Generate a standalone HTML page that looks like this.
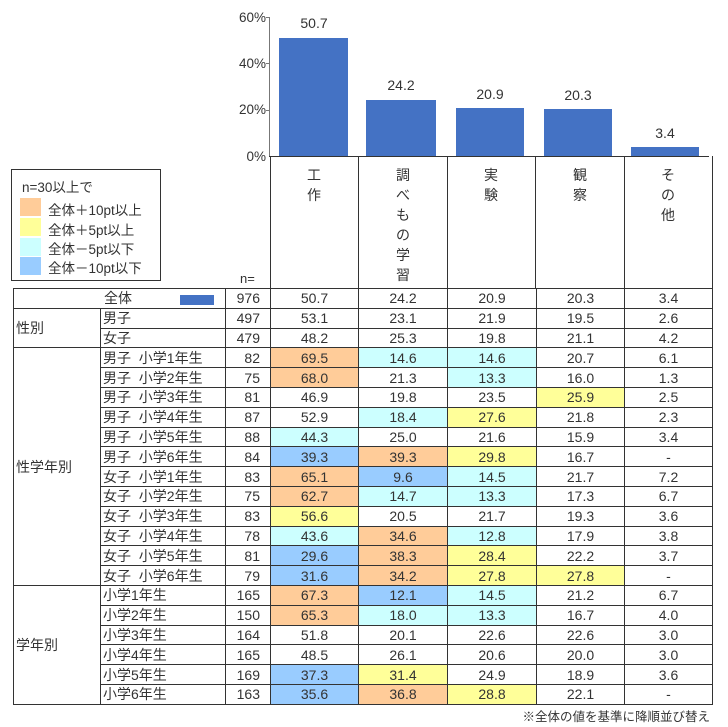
<!DOCTYPE html>
<html><head><meta charset="utf-8"><style>
body{margin:0;width:728px;height:727px;background:#fff;position:relative;overflow:hidden;font-family:"Liberation Sans","Noto Sans CJK JP",sans-serif;color:#333;}
.a{position:absolute}
.bar{position:absolute;background:#4472C4}
.lbl{position:absolute;font-size:14px;text-align:center;width:80px}
.yt{position:absolute;font-size:13.5px;right:462px;text-align:right}
.vt{position:absolute;top:165px;width:20px;font-size:14px;line-height:20px;text-align:center;font-family:"Noto Sans CJK JP",sans-serif}
table{position:absolute;left:13px;top:288px;border-collapse:collapse;font-size:14px;table-layout:fixed}
td{padding:0;height:18.8px;line-height:18px;border:1px solid #333;white-space:nowrap;overflow:hidden}
td.d{text-align:center}
td.n{text-align:right;padding-right:10px}
td.s{padding-left:2px}
tr.ds td{border-top:1px dashed #999}
tr.ds td.g{border-top:1px solid #333}
.O{background:#FFCC99}.Y{background:#FFFF99}.C{background:#CCFFFF}.B{background:#99CCFF}
</style></head><body>
<div class="a" style="left:269px;top:17px;width:1px;height:140px;background:#777"></div>
<div class="a" style="left:269px;top:156px;width:440px;height:1px;background:#333"></div>
<div class="a" style="left:266px;top:17px;width:4px;height:1px;background:#777"></div>
<div class="a" style="left:266px;top:63px;width:4px;height:1px;background:#777"></div>
<div class="a" style="left:266px;top:110px;width:4px;height:1px;background:#777"></div>
<div class="yt" style="top:10px">60%</div>
<div class="yt" style="top:56px">40%</div>
<div class="yt" style="top:102px">20%</div>
<div class="yt" style="top:149px">0%</div>
<div class="bar" style="left:279px;top:38px;width:69px;height:118px"></div>
<div class="bar" style="left:366px;top:100px;width:70px;height:56px"></div>
<div class="bar" style="left:456px;top:108px;width:68px;height:48px"></div>
<div class="bar" style="left:544px;top:109px;width:68px;height:47px"></div>
<div class="bar" style="left:631px;top:147px;width:68px;height:9px"></div>
<div class="lbl" style="left:274px;top:15px">50.7</div>
<div class="lbl" style="left:361px;top:77px">24.2</div>
<div class="lbl" style="left:450px;top:86px">20.9</div>
<div class="lbl" style="left:538px;top:87px">20.3</div>
<div class="lbl" style="left:625px;top:125px">3.4</div>
<div class="a" style="left:270px;top:156px;width:1px;height:132px;background:#333"></div>
<div class="a" style="left:358px;top:156px;width:1px;height:132px;background:#333"></div>
<div class="a" style="left:447px;top:156px;width:1px;height:132px;background:#333"></div>
<div class="a" style="left:535px;top:156px;width:1px;height:132px;background:#333"></div>
<div class="a" style="left:624px;top:156px;width:1px;height:132px;background:#333"></div>
<div class="a" style="left:712px;top:156px;width:1px;height:132px;background:#333"></div>
<div class="vt" style="left:304px">工<br>作</div>
<div class="vt" style="left:393px">調<br>べ<br>も<br>の<br>学<br>習</div>
<div class="vt" style="left:481px">実<br>験</div>
<div class="vt" style="left:570px">観<br>察</div>
<div class="vt" style="left:658px">そ<br>の<br>他</div>
<div class="a" style="left:240px;top:271px;font-size:13px">n=</div>
<div class="a" style="left:11px;top:169px;width:148px;height:110px;border:1px solid #333;font-size:13.5px">
<div class="a" style="left:10px;top:6px">n=30以上で</div>
<div class="a O" style="left:8px;top:28px;width:21px;height:18px"></div><div class="a" style="left:36px;top:29px">全体＋10pt以上</div>
<div class="a Y" style="left:8px;top:48px;width:21px;height:18px"></div><div class="a" style="left:36px;top:49px">全体＋5pt以上</div>
<div class="a C" style="left:8px;top:68px;width:21px;height:18px"></div><div class="a" style="left:36px;top:68px">全体－5pt以下</div>
<div class="a B" style="left:8px;top:87px;width:21px;height:18px"></div><div class="a" style="left:36px;top:87px">全体－10pt以下</div>
</div>
<table>
<colgroup><col style="width:87px"><col style="width:125px"><col style="width:45px"><col style="width:88px"><col style="width:89px"><col style="width:89px"><col style="width:88px"><col style="width:88px"></colgroup>
<tr><td colspan="2" style="padding-left:90px">全体<span style="display:inline-block;width:34px;height:10px;background:#4472C4;margin-left:48px;vertical-align:middle"></span></td><td class="n">976</td><td class="d">50.7</td><td class="d">24.2</td><td class="d">20.9</td><td class="d">20.3</td><td class="d">3.4</td></tr>
<tr><td class="g s" rowspan="2">性別</td><td class="s">男子</td><td class="n">497</td><td class="d">53.1</td><td class="d">23.1</td><td class="d">21.9</td><td class="d">19.5</td><td class="d">2.6</td></tr>
<tr class="ds"><td class="s">女子</td><td class="n">479</td><td class="d">48.2</td><td class="d">25.3</td><td class="d">19.8</td><td class="d">21.1</td><td class="d">4.2</td></tr>
<tr><td class="g s" rowspan="12">性学年別</td><td class="s">男子&nbsp; 小学1年生</td><td class="n">82</td><td class="d O">69.5</td><td class="d C">14.6</td><td class="d C">14.6</td><td class="d">20.7</td><td class="d">6.1</td></tr>
<tr class="ds"><td class="s">男子&nbsp; 小学2年生</td><td class="n">75</td><td class="d O">68.0</td><td class="d">21.3</td><td class="d C">13.3</td><td class="d">16.0</td><td class="d">1.3</td></tr>
<tr class="ds"><td class="s">男子&nbsp; 小学3年生</td><td class="n">81</td><td class="d">46.9</td><td class="d">19.8</td><td class="d">23.5</td><td class="d Y">25.9</td><td class="d">2.5</td></tr>
<tr class="ds"><td class="s">男子&nbsp; 小学4年生</td><td class="n">87</td><td class="d">52.9</td><td class="d C">18.4</td><td class="d Y">27.6</td><td class="d">21.8</td><td class="d">2.3</td></tr>
<tr class="ds"><td class="s">男子&nbsp; 小学5年生</td><td class="n">88</td><td class="d C">44.3</td><td class="d">25.0</td><td class="d">21.6</td><td class="d">15.9</td><td class="d">3.4</td></tr>
<tr class="ds"><td class="s">男子&nbsp; 小学6年生</td><td class="n">84</td><td class="d B">39.3</td><td class="d O">39.3</td><td class="d Y">29.8</td><td class="d">16.7</td><td class="d">-</td></tr>
<tr class="ds"><td class="s">女子&nbsp; 小学1年生</td><td class="n">83</td><td class="d O">65.1</td><td class="d B">9.6</td><td class="d C">14.5</td><td class="d">21.7</td><td class="d">7.2</td></tr>
<tr class="ds"><td class="s">女子&nbsp; 小学2年生</td><td class="n">75</td><td class="d O">62.7</td><td class="d C">14.7</td><td class="d C">13.3</td><td class="d">17.3</td><td class="d">6.7</td></tr>
<tr class="ds"><td class="s">女子&nbsp; 小学3年生</td><td class="n">83</td><td class="d Y">56.6</td><td class="d">20.5</td><td class="d">21.7</td><td class="d">19.3</td><td class="d">3.6</td></tr>
<tr class="ds"><td class="s">女子&nbsp; 小学4年生</td><td class="n">78</td><td class="d C">43.6</td><td class="d O">34.6</td><td class="d C">12.8</td><td class="d">17.9</td><td class="d">3.8</td></tr>
<tr class="ds"><td class="s">女子&nbsp; 小学5年生</td><td class="n">81</td><td class="d B">29.6</td><td class="d O">38.3</td><td class="d Y">28.4</td><td class="d">22.2</td><td class="d">3.7</td></tr>
<tr class="ds"><td class="s">女子&nbsp; 小学6年生</td><td class="n">79</td><td class="d B">31.6</td><td class="d O">34.2</td><td class="d Y">27.8</td><td class="d Y">27.8</td><td class="d">-</td></tr>
<tr><td class="g s" rowspan="6">学年別</td><td class="s">小学1年生</td><td class="n">165</td><td class="d O">67.3</td><td class="d B">12.1</td><td class="d C">14.5</td><td class="d">21.2</td><td class="d">6.7</td></tr>
<tr class="ds"><td class="s">小学2年生</td><td class="n">150</td><td class="d O">65.3</td><td class="d C">18.0</td><td class="d C">13.3</td><td class="d">16.7</td><td class="d">4.0</td></tr>
<tr class="ds"><td class="s">小学3年生</td><td class="n">164</td><td class="d">51.8</td><td class="d">20.1</td><td class="d">22.6</td><td class="d">22.6</td><td class="d">3.0</td></tr>
<tr class="ds"><td class="s">小学4年生</td><td class="n">165</td><td class="d">48.5</td><td class="d">26.1</td><td class="d">20.6</td><td class="d">20.0</td><td class="d">3.0</td></tr>
<tr class="ds"><td class="s">小学5年生</td><td class="n">169</td><td class="d B">37.3</td><td class="d Y">31.4</td><td class="d">24.9</td><td class="d">18.9</td><td class="d">3.6</td></tr>
<tr class="ds"><td class="s">小学6年生</td><td class="n">163</td><td class="d B">35.6</td><td class="d O">36.8</td><td class="d Y">28.8</td><td class="d">22.1</td><td class="d">-</td></tr>
</table>
<div class="a" style="right:18px;top:706px;font-size:12.5px">※全体の値を基準に降順並び替え</div>
</body></html>
